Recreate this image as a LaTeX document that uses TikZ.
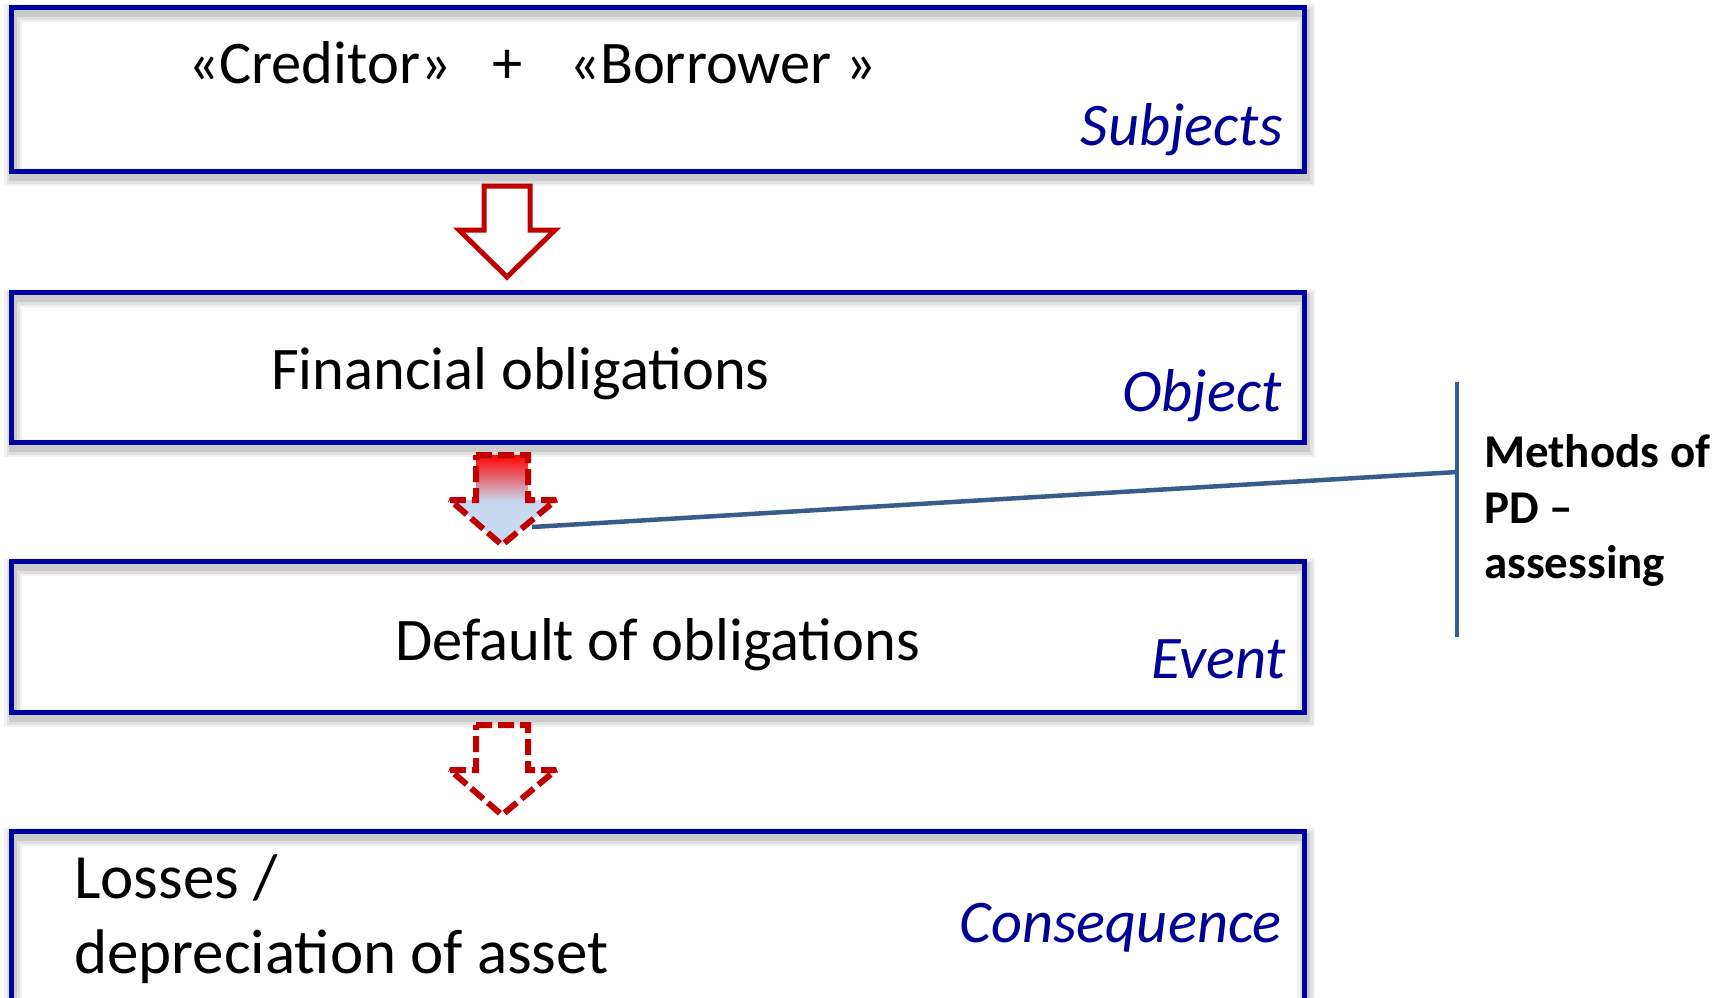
\documentclass[tikz,border=0pt]{standalone}
\usepackage{fontspec}
\setmainfont{Carlito}
\usetikzlibrary{calc}
\definecolor{boxblue}{RGB}{0,0,160}
\definecolor{labelblue}{RGB}{0,0,150}
\definecolor{arrowred}{RGB}{192,0,0}
\definecolor{steel}{RGB}{56,93,138}
\definecolor{lblue}{RGB}{198,217,241}
\definecolor{gradred}{RGB}{255,10,10}
\pgfdeclareverticalshading{arrowgrad}{100bp}{color(0bp)=(lblue); color(49bp)=(lblue); color(74bp)=(gradred); color(100bp)=(gradred)}
\newcommand{\arrowpath}[1]{(476,#1) -- (528,#1) -- (528,#1+45) -- (556,#1+45) -- (502,#1+90) -- (450,#1+45) -- (476,#1+45) -- cycle}
\begin{document}
\begin{tikzpicture}[x=1pt,y=-1pt,
  frame/.style={draw=boxblue, line width=5pt, rectangle, outer sep=0pt, anchor=north west, inner sep=0pt},
  maintext/.style={font=\fontsize{60.5}{74}\selectfont, inner sep=0pt, text=black},
  bigtext/.style={font=\fontsize{63}{74}\selectfont, inner sep=0pt, text=black},
  labeltext/.style={font=\fontsize{60.5}{70}\itshape\selectfont, inner sep=0pt, text=labelblue, anchor=base east},
  methtext/.style={font=\fontsize{47}{56}\bfseries\selectfont, inner sep=0pt, anchor=base west, text=black},
  solidarrow/.style={draw=arrowred, line width=5pt, fill=white, line join=miter},
  dasharrow/.style={draw=arrowred, line width=6pt, dash pattern=on 16pt off 6pt, line join=miter, miter limit=2},
  connector/.style={draw=steel, line width=4.5pt}]
\clip (0,0) rectangle (1733,997);
\fill[white] (0,0) rectangle (1733,997);

% frame shadows
\foreach \ya/\yb in {7/171, 292/442, 561/712, 831/1010}{
  \foreach \w/\o in {18/0.05, 13/0.07, 8/0.09}{
    \draw[line width=\w pt, black, opacity=\o] (13,\ya+6) rectangle (1306,\yb+6);
  }
}

% boxes
\node[frame, minimum width=1293pt, minimum height=164pt] (b1) at (11,7) {};
\node[frame, minimum width=1293pt, minimum height=150pt] (b2) at (11,292) {};
\node[frame, minimum width=1293pt, minimum height=151pt] (b3) at (11,561) {};
\node[frame, minimum width=1293pt, minimum height=180pt] (b4) at (11,831) {};

% arrows
\draw[solidarrow] (484,186) -- (530,186) -- (530,230) -- (555,230) -- (507,277) -- (459,230) -- (484,230) -- cycle;
\shade[shading=arrowgrad] \arrowpath{455};
\draw[dasharrow] \arrowpath{455};
\draw[dasharrow] \arrowpath{725};

% texts
\node[maintext, anchor=base west] (cred) at (188,83) {«Creditor»};
\node[maintext, anchor=base] (plus) at (508,83) {+};
\node[maintext, anchor=base west] (borr) at (569,83) {«Borrower »};
\node[labeltext] (subj) at (1283,145) {Subjects};
\node[maintext, anchor=base west] (fin) at (271,389) {Financial obligations};
\node[labeltext] (obj) at (1282,411) {Object};
\node[maintext, anchor=base west] (def) at (395,660) {Default of obligations};
\node[labeltext] (evt) at (1286,678) {Event};
\node[bigtext, anchor=base west] (loss1) at (74,898) {Losses /};
\node[bigtext, anchor=base west] (loss2) at (74,973) {depreciation of asset};
\node[labeltext] (cons) at (1282,942) {Consequence};

% bracket and connector
\coordinate (a2) at (532,527);
\coordinate (bt) at (1457,382);
\coordinate (bm) at (1457,472);
\coordinate (bb) at (1457,637);
\draw[connector] (bt) -- (bb);
\draw[connector] (a2) -- (bm);
\node[methtext] (m1) at (1484,467) {Methods of};
\node[methtext] (m2) at (1484,523) {PD –};
\node[methtext] (m3) at (1484,578) {assessing};
\end{tikzpicture}
\end{document}
